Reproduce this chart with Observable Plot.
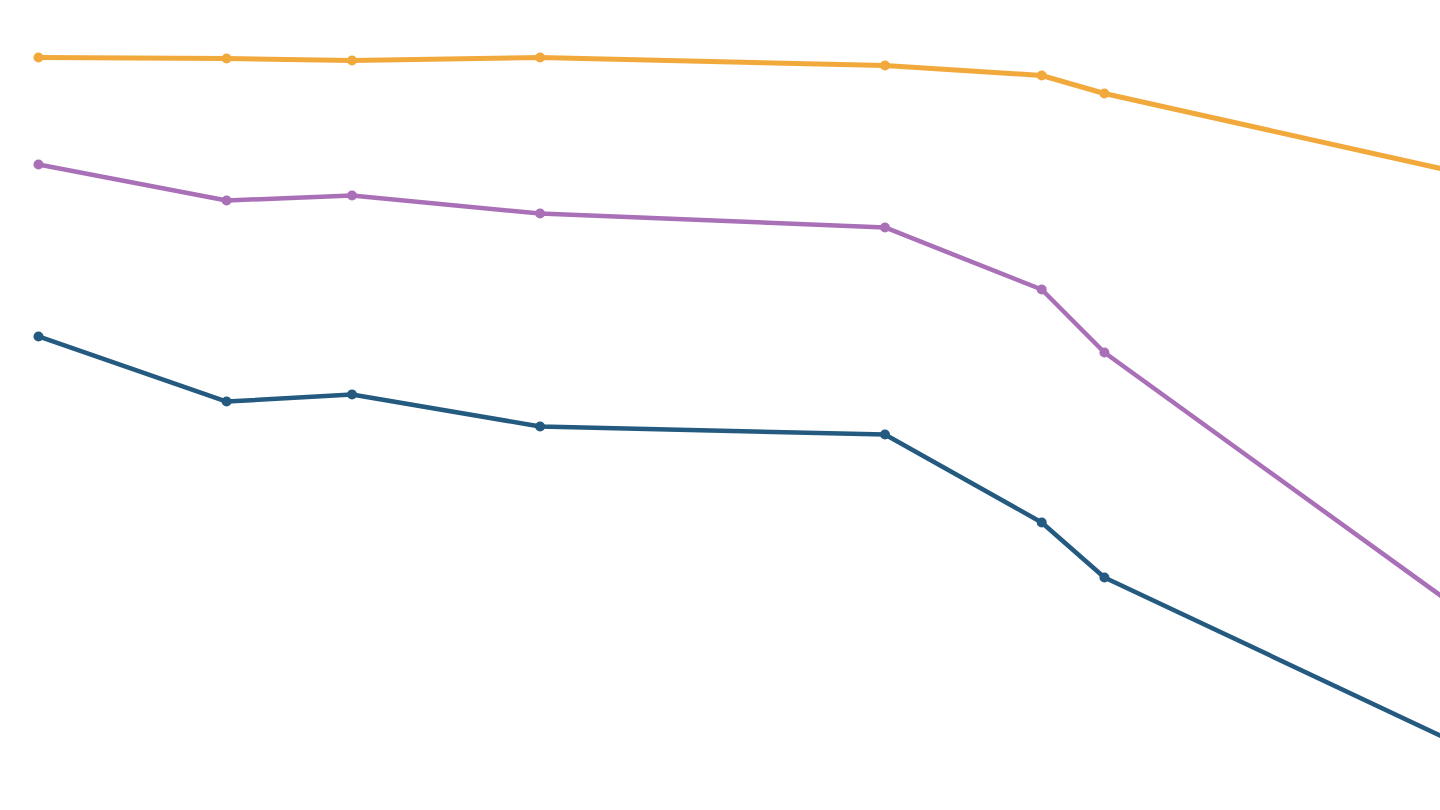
<!DOCTYPE html>
<html>
<head>
<meta charset="utf-8">
<script src="https://cdn.jsdelivr.net/npm/d3@7"></script>
<script src="https://cdn.jsdelivr.net/npm/@observablehq/plot@0.6"></script>
<style>
  html, body { margin: 0; padding: 0; background: #fff; overflow: hidden; }
  #chart svg { display: block; }
</style>
</head>
<body>
<div id="chart"></div>
<script>
// x positions (period index)
const periods = [0, 6, 10, 16, 27, 32, 34, 46];
// series values
const seriesTop    = [92.96, 92.84, 92.59, 92.96, 91.98, 90.74, 88.52, 78.15];
const seriesMiddle = [79.75, 75.31, 75.93, 73.70, 71.98, 64.32, 56.54, 22.96];
const seriesBottom = [58.52, 50.49, 51.36, 47.41, 46.42, 35.56, 28.77, 6.91];
const seriesNames  = ["Top", "Middle", "Bottom"];
const seriesColors = ["#f2a93b", "#a970b8", "#245a80"];

const allSeries = [seriesTop, seriesMiddle, seriesBottom];
const widths = [5, 4.5, 4.5];
const data = [];
allSeries.forEach((vals, i) => {
  vals.forEach((v, j) => data.push({series: seriesNames[i], x: periods[j], y: v}));
});

const chart = Plot.plot({
  width: 1440,
  height: 810,
  margin: 0,
  x: {domain: [-1.212, 44.72], axis: null},
  y: {domain: [0, 100], axis: null},
  color: {domain: seriesNames, range: seriesColors},
  marks: [
    ...seriesNames.map((name, i) =>
      Plot.line(data.filter(d => d.series === name), {x: "x", y: "y", stroke: "series", strokeWidth: widths[i], clip: true})
    ),
    Plot.dot(data, {x: "x", y: "y", fill: "series", r: 5, clip: true})
  ]
});
document.getElementById("chart").appendChild(chart);
</script>
</body>
</html>
